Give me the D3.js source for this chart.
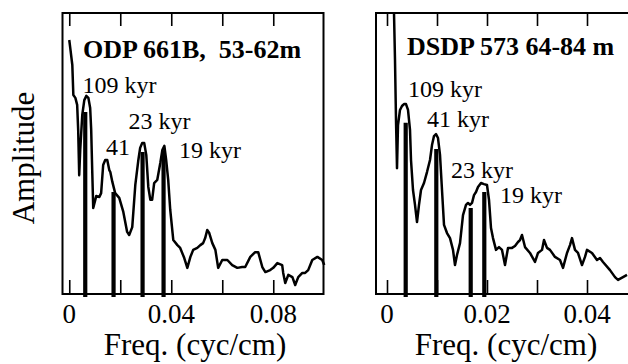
<!DOCTYPE html>
<html>
<head>
<meta charset="utf-8">
<script src="https://cdn.jsdelivr.net/npm/d3@7"></script>
<style>
  html, body { margin: 0; padding: 0; background: #fff; }
  svg { display: block; }
  text { font-family: "Liberation Serif", "Times New Roman", serif; fill: #000; }
</style>
</head>
<body>
<svg id="chart" width="628" height="364"></svg>
<script>
// ---------- DATA ----------
// Left panel: ODP 661B, 53-62m
const leftFreq = [0, 0.0004, 0.0012, 0.0016, 0.0024, 0.0031, 0.0035, 0.0039, 0.0043, 0.0051, 0.0059, 0.0067, 0.0075, 0.0082, 0.0086, 0.0090, 0.0094, 0.0102, 0.0106, 0.0118, 0.0125, 0.0133, 0.0141, 0.0149, 0.0157, 0.0161, 0.0169, 0.0180, 0.0196, 0.0212, 0.0227, 0.0235, 0.0247, 0.0259, 0.0271, 0.0278, 0.0286, 0.0294, 0.0302, 0.0310, 0.0318, 0.0325, 0.0333, 0.0345, 0.0357, 0.0365, 0.0373, 0.0380, 0.0388, 0.0396, 0.0408, 0.0424, 0.0435, 0.0451, 0.0463, 0.0475, 0.0486, 0.0502, 0.0514, 0.0525, 0.0533, 0.0541, 0.0549, 0.0561, 0.0573, 0.0584, 0.0600, 0.0620, 0.0639, 0.0659, 0.0678, 0.0690, 0.0710, 0.0729, 0.0741, 0.0757, 0.0769, 0.0788, 0.0800, 0.0816, 0.0835, 0.0839, 0.0847, 0.0859, 0.0875, 0.0886, 0.0898, 0.0914, 0.0925, 0.0937, 0.0953, 0.0973, 0.0992, 0.1000];
const leftAmp = [0.904, 0.875, 0.815, 0.708, 0.698, 0.673, 0.584, 0.423, 0.512, 0.637, 0.690, 0.705, 0.698, 0.662, 0.584, 0.441, 0.306, 0.335, 0.349, 0.345, 0.359, 0.459, 0.477, 0.477, 0.441, 0.434, 0.399, 0.359, 0.342, 0.292, 0.221, 0.210, 0.238, 0.388, 0.477, 0.520, 0.537, 0.537, 0.495, 0.381, 0.335, 0.335, 0.395, 0.406, 0.466, 0.512, 0.527, 0.477, 0.406, 0.299, 0.192, 0.174, 0.164, 0.128, 0.093, 0.132, 0.157, 0.164, 0.174, 0.181, 0.199, 0.228, 0.217, 0.181, 0.157, 0.093, 0.121, 0.121, 0.103, 0.093, 0.096, 0.096, 0.132, 0.149, 0.149, 0.096, 0.078, 0.085, 0.093, 0.110, 0.103, 0.075, 0.039, 0.068, 0.060, 0.032, 0.060, 0.075, 0.075, 0.085, 0.121, 0.132, 0.121, 0.103];
const leftPeakFreq = [0.00627, 0.01737, 0.02875, 0.03698];
const leftPeakAmp = [0.648, 0.363, 0.505, 0.512];
const leftTicks = [0, 0.02, 0.04, 0.06, 0.08];
const leftTickLabels = ["0", "0.04", "0.08"];
const leftTickLabelValues = [0, 0.04, 0.08];
const leftTitle = "ODP 661B,\u00A0\u00A053-62m";
const leftPeakLabels = ["109 kyr", "41", "23 kyr", "19 kyr"];
const leftPeakLabelFreq = [0.0052, 0.0144, 0.0232, 0.0430];
const leftPeakLabelAmp = [0.714, 0.495, 0.587, 0.484];

// Right panel: DSDP 573 64-84 m
const rightFreq = [0.0014, 0.0016, 0.0018, 0.0020, 0.0022, 0.0026, 0.0030, 0.0034, 0.0038, 0.0042, 0.0046, 0.0048, 0.0052, 0.0056, 0.0060, 0.0064, 0.0068, 0.0074, 0.0080, 0.0086, 0.0090, 0.0094, 0.0098, 0.0102, 0.0106, 0.0110, 0.0114, 0.0120, 0.0126, 0.0132, 0.0136, 0.0140, 0.0146, 0.0152, 0.0158, 0.0162, 0.0166, 0.0170, 0.0174, 0.0178, 0.0182, 0.0188, 0.0194, 0.0200, 0.0204, 0.0208, 0.0212, 0.0218, 0.0224, 0.0230, 0.0236, 0.0242, 0.0250, 0.0256, 0.0262, 0.0266, 0.0270, 0.0276, 0.0286, 0.0296, 0.0302, 0.0310, 0.0314, 0.0320, 0.0326, 0.0336, 0.0346, 0.0352, 0.0360, 0.0366, 0.0370, 0.0376, 0.0382, 0.0390, 0.0396, 0.0400, 0.0410, 0.0420, 0.0426, 0.0432, 0.0446, 0.0456, 0.0462, 0.0472, 0.0480];
const rightAmp = [1.0, 0.833, 0.619, 0.448, 0.601, 0.655, 0.669, 0.676, 0.676, 0.655, 0.584, 0.477, 0.370, 0.317, 0.256, 0.317, 0.370, 0.395, 0.434, 0.477, 0.530, 0.562, 0.569, 0.555, 0.495, 0.370, 0.246, 0.217, 0.199, 0.157, 0.103, 0.139, 0.181, 0.281, 0.317, 0.324, 0.317, 0.324, 0.352, 0.363, 0.381, 0.395, 0.391, 0.388, 0.335, 0.235, 0.199, 0.157, 0.167, 0.157, 0.103, 0.164, 0.164, 0.171, 0.185, 0.192, 0.210, 0.167, 0.146, 0.114, 0.146, 0.157, 0.192, 0.164, 0.157, 0.132, 0.121, 0.093, 0.146, 0.174, 0.199, 0.157, 0.146, 0.103, 0.132, 0.157, 0.146, 0.121, 0.128, 0.114, 0.085, 0.060, 0.050, 0.060, 0.068];
const rightPeakFreq = [0.00374, 0.00986, 0.01674, 0.01946];
const rightPeakAmp = [0.609, 0.516, 0.306, 0.363];
const rightTicks = [0, 0.01, 0.02, 0.03, 0.04];
const rightTickLabels = ["0", "0.02", "0.04"];
const rightTickLabelValues = [0, 0.02, 0.04];
const rightTitle = "DSDP 573 64-84 m";
const rightPeakLabels = ["109 kyr", "41 kyr", "23 kyr", "19 kyr"];
const rightPeakLabelFreq = [0.0042, 0.0080, 0.0128, 0.0226];
const rightPeakLabelAmp = [0.701, 0.594, 0.413, 0.324];

const yLabel = "Amplitude";
const xLabel = "Freq. (cyc/cm)";

// ---------- DRAW ----------
const svg = d3.select("#chart");

function panel(opt) {
  const x = d3.scaleLinear().domain(opt.xDomain).range([opt.left, opt.right]);
  const y = d3.scaleLinear().domain([0, 1]).range([opt.bottom, opt.top]);
  const g = svg.append("g");

  // frame
  g.append("rect")
    .attr("x", opt.left).attr("y", opt.top)
    .attr("width", opt.right - opt.left).attr("height", opt.bottom - opt.top)
    .attr("fill", "none").attr("stroke", "#000").attr("stroke-width", 2);

  // top ticks
  const top = g.append("g").attr("transform", `translate(0,${opt.top})`)
    .call(d3.axisTop(x).tickValues(opt.ticks).tickSize(-13).tickFormat(""));
  top.select(".domain").remove();
  top.selectAll(".tick line").attr("stroke", "#000").attr("stroke-width", 1.6);

  // bottom ticks
  const bot = g.append("g").attr("transform", `translate(0,${opt.bottom})`)
    .call(d3.axisBottom(x).tickValues(opt.ticks).tickSize(-14).tickFormat(""));
  bot.select(".domain").remove();
  bot.selectAll(".tick line").attr("stroke", "#000").attr("stroke-width", 1.6);

  // tick labels
  g.selectAll("text.tl").data(opt.tickLabelValues).enter().append("text")
    .attr("class", "tl")
    .attr("x", d => x(d)).attr("y", 323)
    .attr("text-anchor", "middle")
    .attr("font-size", 27)
    .text((d, i) => opt.tickLabels[i]);

  // x label
  g.append("text")
    .attr("x", opt.xLabelX).attr("y", 355)
    .attr("text-anchor", "middle").attr("font-size", 31)
    .text(xLabel);

  // spectrum line
  const pts = opt.freq.map((f, i) => [f, opt.amp[i]]);
  g.append("path").datum(pts)
    .attr("fill", "none").attr("stroke", "#000").attr("stroke-width", 2.5)
    .attr("stroke-linejoin", "round")
    .attr("d", d3.line().x(d => x(d[0])).y(d => y(d[1])));

  // peak bars
  g.selectAll("line.bar").data(opt.peakFreq).enter().append("line")
    .attr("class", "bar")
    .attr("x1", d => x(d)).attr("x2", d => x(d))
    .attr("y1", (d, i) => y(opt.peakAmp[i])).attr("y2", opt.bottom + 3)
    .attr("stroke", "#000").attr("stroke-width", 4.2);

  // title
  g.append("text")
    .attr("x", opt.titleX).attr("y", opt.titleY)
    .attr("font-size", 26).attr("font-weight", "bold")
    .text(opt.title);

  // peak labels
  g.selectAll("text.pl").data(opt.peakLabels).enter().append("text")
    .attr("class", "pl")
    .attr("x", (d, i) => x(opt.peakLabelFreq[i]))
    .attr("y", (d, i) => y(opt.peakLabelAmp[i]))
    .attr("font-size", 24)
    .text(d => d);
}

panel({
  left: 62.5, right: 323.5, top: 13, bottom: 294,
  xDomain: [-0.00265, 0.0997],
  ticks: leftTicks, tickLabels: leftTickLabels, tickLabelValues: leftTickLabelValues,
  freq: leftFreq, amp: leftAmp, peakFreq: leftPeakFreq, peakAmp: leftPeakAmp,
  title: leftTitle, titleX: 83, titleY: 58,
  peakLabels: leftPeakLabels, peakLabelFreq: leftPeakLabelFreq, peakLabelAmp: leftPeakLabelAmp,
  xLabelX: 195
});

panel({
  left: 376, right: 634, top: 13, bottom: 294,
  xDomain: [-0.0022, 0.0494],
  ticks: rightTicks, tickLabels: rightTickLabels, tickLabelValues: rightTickLabelValues,
  freq: rightFreq, amp: rightAmp, peakFreq: rightPeakFreq, peakAmp: rightPeakAmp,
  title: rightTitle, titleX: 407, titleY: 55,
  peakLabels: rightPeakLabels, peakLabelFreq: rightPeakLabelFreq, peakLabelAmp: rightPeakLabelAmp,
  xLabelX: 506
});

// y label
svg.append("text")
  .attr("transform", "translate(34,158) rotate(-90)")
  .attr("text-anchor", "middle")
  .attr("font-size", 31)
  .text(yLabel);
</script>
</body>
</html>
